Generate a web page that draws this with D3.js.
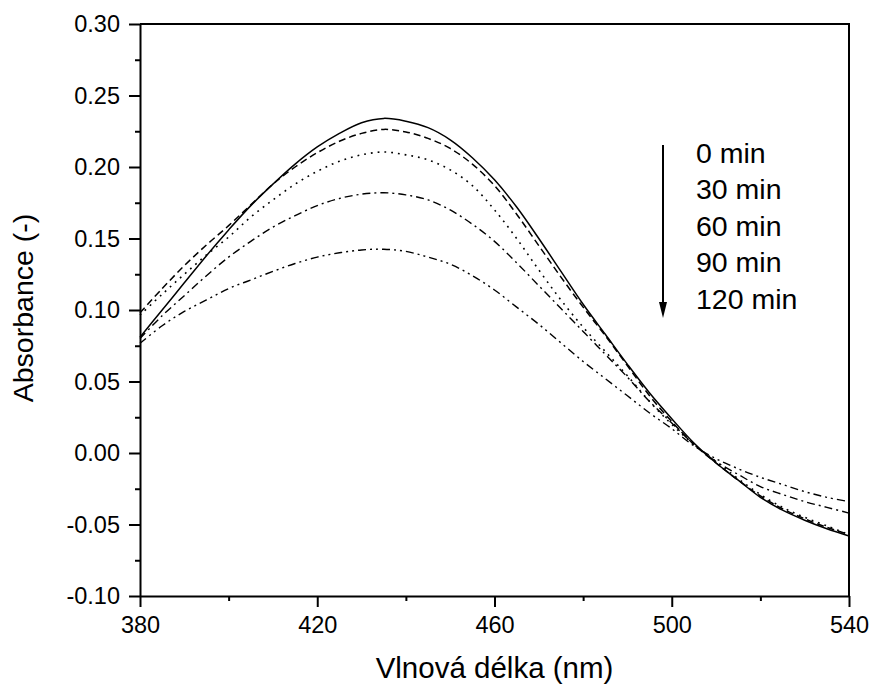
<!DOCTYPE html>
<html>
<head>
<meta charset="utf-8">
<script src="https://cdn.jsdelivr.net/npm/d3@7/dist/d3.min.js"></script>
<style>
  body { margin: 0; background: #fff; }
  svg { display: block; font-family: Arial, "Liberation Sans", sans-serif; }
</style>
</head>
<body>
<svg id="chart" width="872" height="684"></svg>
<script>
// wavelength grid (nm)
const wavelength = [380, 385, 390, 395, 400, 405, 410, 415, 420, 425, 430, 435, 440, 445, 450, 455,
  460, 465, 470, 475, 480, 485, 490, 495, 500, 505, 510, 515, 520, 525, 530, 535, 540];

// absorbance
const abs0 = [0.081, 0.100, 0.119, 0.138, 0.156, 0.173, 0.188, 0.202, 0.214, 0.2235, 0.231, 0.234, 0.232,
  0.2275, 0.219, 0.2065, 0.191, 0.172, 0.150, 0.127, 0.104, 0.083, 0.062, 0.042, 0.024, 0.007, -0.007,
  -0.019, -0.031, -0.040, -0.047, -0.053, -0.058];
const abs30 = [0.098, 0.115, 0.131, 0.1455, 0.159, 0.1735, 0.188, 0.200, 0.210, 0.218, 0.2235, 0.2263, 0.2245,
  0.220, 0.213, 0.202, 0.187, 0.167, 0.145, 0.123, 0.102, 0.082, 0.061, 0.040, 0.022, 0.006, -0.007,
  -0.019, -0.030, -0.039, -0.046, -0.052, -0.057];
const abs60 = [0.0965, 0.111, 0.125, 0.1385, 0.151, 0.165, 0.177, 0.188, 0.197, 0.204, 0.2085, 0.2105, 0.2085,
  0.205, 0.198, 0.187, 0.170, 0.150, 0.128, 0.107, 0.088, 0.071, 0.054, 0.036, 0.020, 0.006, -0.006,
  -0.018, -0.029, -0.038, -0.045, -0.051, -0.057];
const abs90 = [0.080, 0.096, 0.110, 0.124, 0.137, 0.148, 0.158, 0.166, 0.173, 0.178, 0.181, 0.182, 0.1805,
  0.177, 0.170, 0.160, 0.148, 0.133, 0.117, 0.101, 0.085, 0.069, 0.053, 0.036, 0.021, 0.006, -0.006,
  -0.015, -0.0235, -0.029, -0.034, -0.038, -0.042];
const abs120 = [0.0767, 0.089, 0.099, 0.107, 0.115, 0.121, 0.127, 0.1325, 0.137, 0.140, 0.142, 0.1425, 0.141,
  0.137, 0.132, 0.124, 0.114, 0.102, 0.090, 0.077, 0.064, 0.052, 0.040, 0.028, 0.017, 0.005, -0.004,
  -0.011, -0.017, -0.022, -0.027, -0.031, -0.034];

const seriesNames = ["0 min", "30 min", "60 min", "90 min", "120 min"];
const xTicks = [380, 420, 460, 500, 540];
const xMinor = [400, 440, 480, 520];
const yTicks = [-0.10, -0.05, 0.00, 0.05, 0.10, 0.15, 0.20, 0.25, 0.30];
const yMinor = [-0.075, -0.025, 0.025, 0.075, 0.125, 0.175, 0.225, 0.275];

const series = [abs0, abs30, abs60, abs90, abs120];
const dashes = [null, "7,4", "1.8,5", "8,4,2,4", "8,4,2,4,2,4"];
const widths = [1.5, 1.5, 1.6, 1.4, 1.4];

const svg = d3.select("#chart");
const plotLeft = 140, plotRight = 849, plotTop = 24, plotBottom = 596;

const x = d3.scaleLinear().domain([380, 540]).range([plotLeft, plotRight]);
const y = d3.scaleLinear().domain([-0.10, 0.30]).range([plotBottom, plotTop]);

// curves
const line = d3.line()
  .x((d, i) => x(wavelength[i]))
  .y(d => y(d))
  .curve(d3.curveCatmullRom);

svg.append("g")
  .selectAll("path")
  .data(series)
  .join("path")
  .attr("d", d => line(d))
  .attr("fill", "none")
  .attr("stroke", "#000")
  .attr("stroke-width", (d, i) => widths[i])
  .attr("stroke-dasharray", (d, i) => dashes[i]);

// frame (top + right)
svg.append("path")
  .attr("d", `M${plotLeft},${plotTop}H${plotRight}V${plotBottom}`)
  .attr("fill", "none")
  .attr("stroke", "#000")
  .attr("stroke-width", 2);

// axes
svg.append("g")
  .attr("transform", `translate(0,${plotBottom})`)
  .call(d3.axisBottom(x).tickValues(xTicks).tickFormat(d3.format("d"))
    .tickSizeInner(11).tickSizeOuter(0).tickPadding(9));
svg.append("g")
  .attr("transform", `translate(0,${plotBottom})`)
  .call(d3.axisBottom(x).tickValues(xMinor).tickFormat("").tickSizeInner(5).tickSizeOuter(0))
  .call(g => g.select(".domain").remove());

svg.append("g")
  .attr("transform", `translate(${plotLeft},0)`)
  .call(d3.axisLeft(y).tickValues(yTicks).tickFormat(d3.format(".2f"))
    .tickSizeInner(11).tickSizeOuter(0).tickPadding(9));
svg.append("g")
  .attr("transform", `translate(${plotLeft},0)`)
  .call(d3.axisLeft(y).tickValues(yMinor).tickFormat("").tickSizeInner(5).tickSizeOuter(0))
  .call(g => g.select(".domain").remove());

svg.selectAll(".domain, .tick line").attr("stroke", "#000").attr("stroke-width", 2);
svg.selectAll(".tick text")
  .attr("font-family", "Arial, 'Liberation Sans', sans-serif")
  .attr("font-size", 23.5)
  .attr("fill", "#000")
  .text(function () { return this.textContent.replace("\u2212", "-"); });

// axis titles
svg.append("text")
  .attr("x", (plotLeft + plotRight) / 2)
  .attr("y", 678)
  .attr("text-anchor", "middle")
  .attr("font-size", 29.5)
  .text("Vlnová délka (nm)");

svg.append("text")
  .attr("transform", `translate(33,${(plotTop + plotBottom) / 2 - 2}) rotate(-90)`)
  .attr("text-anchor", "middle")
  .attr("font-size", 28.5)
  .text("Absorbance (-)");

// legend: arrow + time labels
const legend = svg.append("g");
legend.append("line")
  .attr("x1", 663).attr("x2", 663)
  .attr("y1", 145).attr("y2", 304)
  .attr("stroke", "#000").attr("stroke-width", 2);
legend.append("path")
  .attr("d", "M659,302L667,302L663,318Z")
  .attr("fill", "#000");
legend.selectAll("text")
  .data(seriesNames)
  .join("text")
  .attr("x", 696)
  .attr("y", (d, i) => 163 + i * 36.4)
  .attr("font-size", 28.5)
  .text(d => d);
</script>
</body>
</html>
